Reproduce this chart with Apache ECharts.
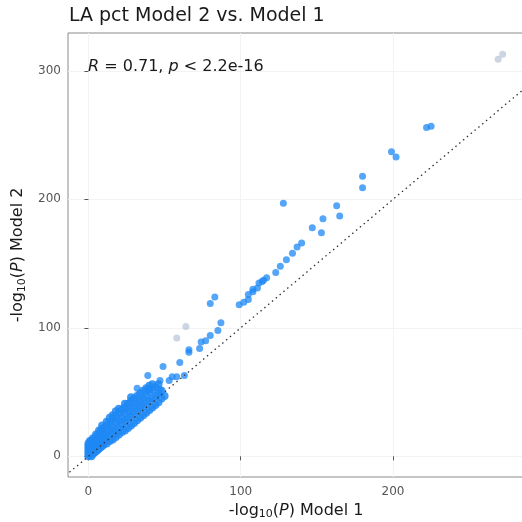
<!DOCTYPE html>
<html>
<head>
<meta charset="utf-8">
<script src="https://cdn.jsdelivr.net/npm/echarts@6/dist/echarts.min.js"></script>
<style>html,body{margin:0;padding:0;background:#fff}#c{width:522px;height:522px}</style>
</head>
<body>
<div id="c"></div>
<script>
// -log10(P) Model 1 (x) vs Model 2 (y)
const denseCloud = [
  [0,0],[0,2],[0,4],[0,6],[0,8],[0,10],
  [1,1],[1,3],[1,5],[1,7],[1,9],[1,12],
  [2,0],[2,3],[2,6],[2,9],[2,12],
  [3,2],[3,5],[3,8],[3,11],[3,14],
  [4,3],[4,6],[4,9],[4,13],
  [5,4],[5,7],[5,10],[5,14],[5,17],
  [6,5],[6,8],[6,12],[6,16],
  [7,6],[7,9],[7,13],[7,17],[7,20],
  [8,7],[8,11],[8,15],[8,19],
  [9,8],[9,12],[9,16],[9,21],[9,24],
  [10,9],[10,13],[10,17],[10,22],
  [12,10],[12,14],[12,19],[12,24],[12,27],
  [14,12],[14,16],[14,21],[14,27],[14,30],
  [16,13],[16,18],[16,23],[16,29],[16,32],
  [18,15],[18,20],[18,26],[18,31],[18,35],
  [20,17],[20,22],[20,28],[20,34],[20,37],
  [22,19],[22,25],[22,30],[22,36],
  [24,20],[24,27],[24,33],[24,38],[24,41],
  [26,22],[26,29],[26,35],[26,41],
  [28,24],[28,31],[28,37],[28,43],[28,46],
  [30,26],[30,33],[30,39],[30,45],
  [32,28],[32,35],[32,41],[32,47],
  [34,30],[34,37],[34,43],[34,49],
  [36,32],[36,39],[36,45],[36,51],
  [38,34],[38,41],[38,47],[38,53],
  [40,36],[40,43],[40,50],[40,55],
  [42,38],[42,45],[42,52],[42,56],
  [44,40],[44,47],[44,54],
  [46,42],[46,49],[46,56],
  [48,45],[48,51],[50,47]
];
const sparsePoints = [
  [39,63],[49,70],[60,73],[40,52],[47,52],[47,59],[58,62],[63,63],[55,62],[53,59],[32,53],[39,52],
  [66,81],[66,83],[73,84],[74,89],[77,90],[80,94],[85,98],[87,104],
  [80,119],[83,124],[99,118],[102,120],[105,122],[105,126],[108,128],[108,130],[111,131],
  [112,135],[114,136],[115,137],[117,139],
  [123,143],[126,148],[130,153],[134,158],[137,163],[140,166],
  [147,178],[153,174],[154,185],[163,195],[165,187],[128,197],
  [180,218],[180,209],[199,237],[202,233],[222,256],[225,257]
];
const fadedPoints = [[64,101],[58,92],[269,309],[272,313]];
const xTicks = [0, 100, 200];
const yTicks = [0, 100, 200, 300];
const refLine = [[-20,-20],[300,300]];

const chart = echarts.init(document.getElementById('c'));
const font = 'DejaVu Sans';
chart.setOption({
  animation: false,
  backgroundColor: '#ffffff',
  title: {
    text: 'LA pct Model 2 vs. Model 1',
    left: 64, top: 2,
    textStyle: {fontFamily: font, fontSize: 19, fontWeight: 'normal', color: '#1a1a1a'}
  },
  graphic: [{
    type: 'text', left: 88, top: 59, z: 100,
    style: {
      text: '{i|R} = 0.71, {i|p} < 2.2e-16',
      rich: {i: {fontStyle: 'italic', fontFamily: font, fontSize: 16, fill: '#1a1a1a'}},
      font: '16px "DejaVu Sans"', fill: '#1a1a1a'
    }
  }],
  grid: {left: 68, right: -2, top: 33, bottom: 45, outerBoundsMode: 'none', containLabel: false,
         show: true, borderColor: '#8a8a8a', borderWidth: 1, backgroundColor: 'transparent'},
  xAxis: {
    type: 'value', min: -13.4, max: 286, interval: 100,
    name: '-log{sub|10}({i|P}) Model 1', nameLocation: 'middle', nameGap: 22,
    nameTextStyle: {fontFamily: font, fontSize: 16, color: '#1a1a1a',
      rich: {sub: {fontSize: 11, fontFamily: font, color: '#1a1a1a', padding: [7,0,0,0]},
             i: {fontStyle: 'italic', fontSize: 16, fontFamily: font, color: '#1a1a1a'}}},
    axisLine: {show: false},
    axisTick: {show: true, length: 4, lineStyle: {color: '#555'}, customValues: xTicks},
    axisLabel: {fontFamily: font, fontSize: 12, color: '#555', margin: 9, customValues: xTicks},
    splitLine: {show: true, lineStyle: {color: '#f3f3f3', width: 1}}
  },
  yAxis: {
    type: 'value', min: -16.1, max: 329.5,
    name: '-log{sub|10}({i|P}) Model 2', nameLocation: 'middle', nameGap: 32, nameRotate: 90,
    nameTextStyle: {fontFamily: font, fontSize: 16, color: '#1a1a1a',
      rich: {sub: {fontSize: 11, fontFamily: font, color: '#1a1a1a', padding: [7,0,0,0]},
             i: {fontStyle: 'italic', fontSize: 16, fontFamily: font, color: '#1a1a1a'}}},
    axisLine: {show: false},
    axisTick: {show: true, length: 4, lineStyle: {color: '#555'}, customValues: yTicks},
    axisLabel: {fontFamily: font, fontSize: 12, color: '#555', margin: 7, customValues: yTicks},
    splitLine: {show: true, lineStyle: {color: '#f3f3f3', width: 1}}
  },
  series: [
    {type: 'line', data: refLine, symbol: 'none', silent: true, clip: true,
     lineStyle: {color: '#333', width: 1.3, type: [1.5, 3.5]}},
    {type: 'scatter', data: fadedPoints, symbolSize: 7, itemStyle: {color: '#8fa3bf', opacity: 0.45}},
    {type: 'scatter', data: denseCloud, symbolSize: 8, itemStyle: {color: '#1E88F5', opacity: 0.85}},
    {type: 'scatter', data: sparsePoints, symbolSize: 7, itemStyle: {color: '#1E88F5', opacity: 0.75}}
  ]
});
</script>
</body>
</html>
